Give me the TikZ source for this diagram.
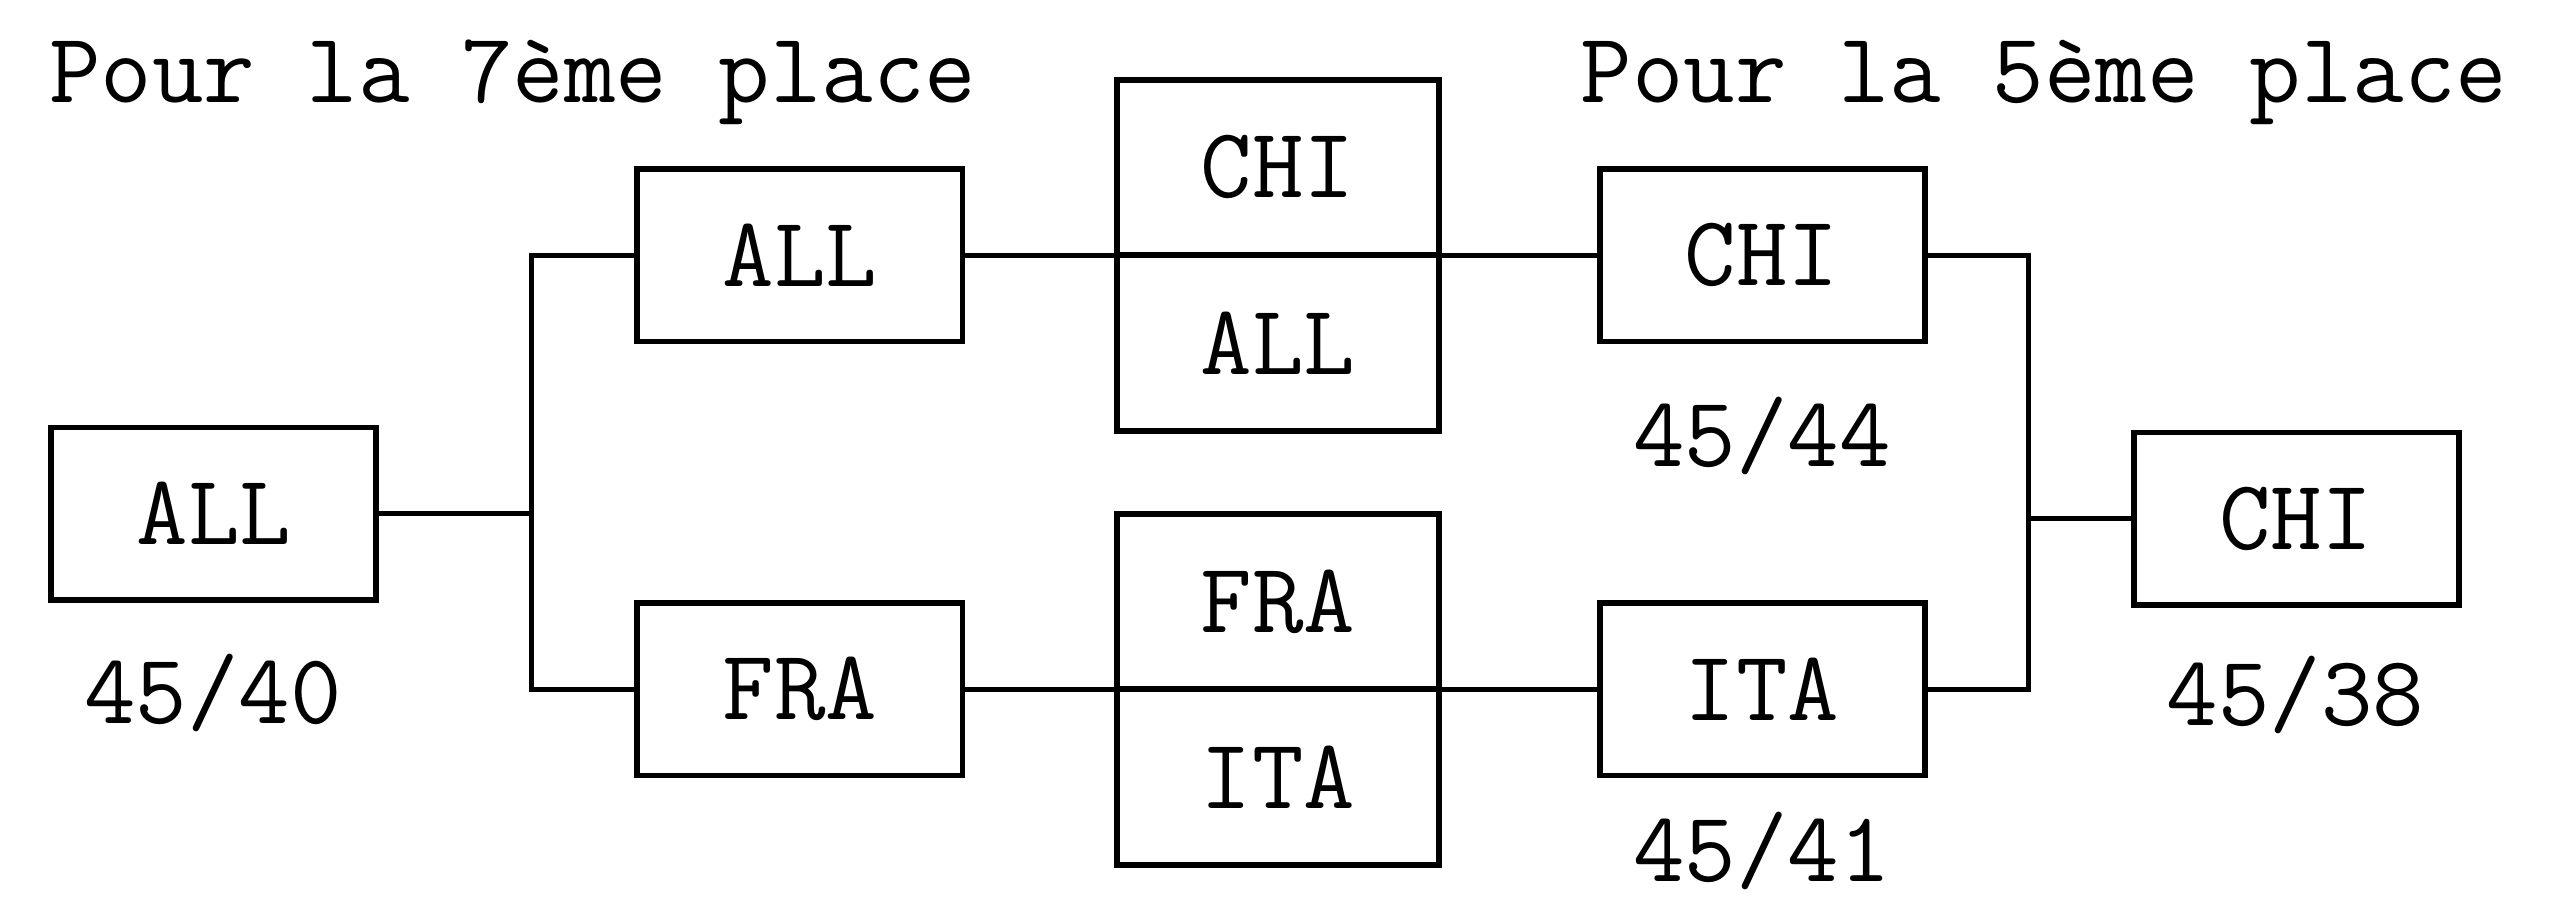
\documentclass[tikz,border=0pt]{standalone}
\usepackage{fontspec}
\begin{document}
\begin{tikzpicture}[x=0.02cm,y=-0.02cm,
  every node/.style={font=\ttfamily\fontsize{35}{40}\selectfont},
  box/.style={draw,line width=2pt,minimum width=4cm,minimum height=2.12cm,inner sep=0pt},
  half/.style={draw,line width=2pt,minimum width=3.96cm,minimum height=2.16cm,inner sep=0pt},
  lbl/.style={inner sep=0pt},
  conn/.style={line width=1.8pt}]
\useasboundingbox (0,0) rectangle (1568,554);
% titles
\node[lbl,anchor=base west] (t7) at (30,63) {Pour la 7ème place};
\node[lbl,anchor=base west] (t5) at (972,63) {Pour la 5ème place};
% boxes
\node[box] (lALL) at (131.5,316) {ALL};
\node[box] (tALL) at (492,157) {ALL};
\node[box] (FRA) at (492,424) {FRA};
\node[half] (mCHI) at (786,103) {CHI};
\node[half] (mALL) at (786,211) {ALL};
\node[half] (mFRA) at (786,370) {FRA};
\node[half] (mITA) at (786,478) {ITA};
\node[box] (sCHI) at (1084,157) {CHI};
\node[box] (sITA) at (1084,424) {ITA};
\node[box] (fCHI) at (1412.5,319) {CHI};
% scores
\node[lbl,anchor=base] (s40) at (131,445) {45/40};
\node[lbl,anchor=base] (s44) at (1084,287) {45/44};
\node[lbl,anchor=base] (s41) at (1084,542) {45/41};
\node[lbl,anchor=base] (s38) at (1412,446) {45/38};
% connectors
\coordinate (jl) at (327,316);
\coordinate (jr) at (1248,319);
\draw[conn] (tALL.west) -| (jl) |- (FRA.west);
\draw[conn] (lALL.east) -- (jl);
\draw[conn] (tALL.east) -- (sCHI.west);
\draw[conn] (FRA.east) -- (sITA.west);
\draw[conn] (sCHI.east) -| (jr) |- (sITA.east);
\draw[conn] (jr) -- (fCHI.west);
\end{tikzpicture}
\end{document}
